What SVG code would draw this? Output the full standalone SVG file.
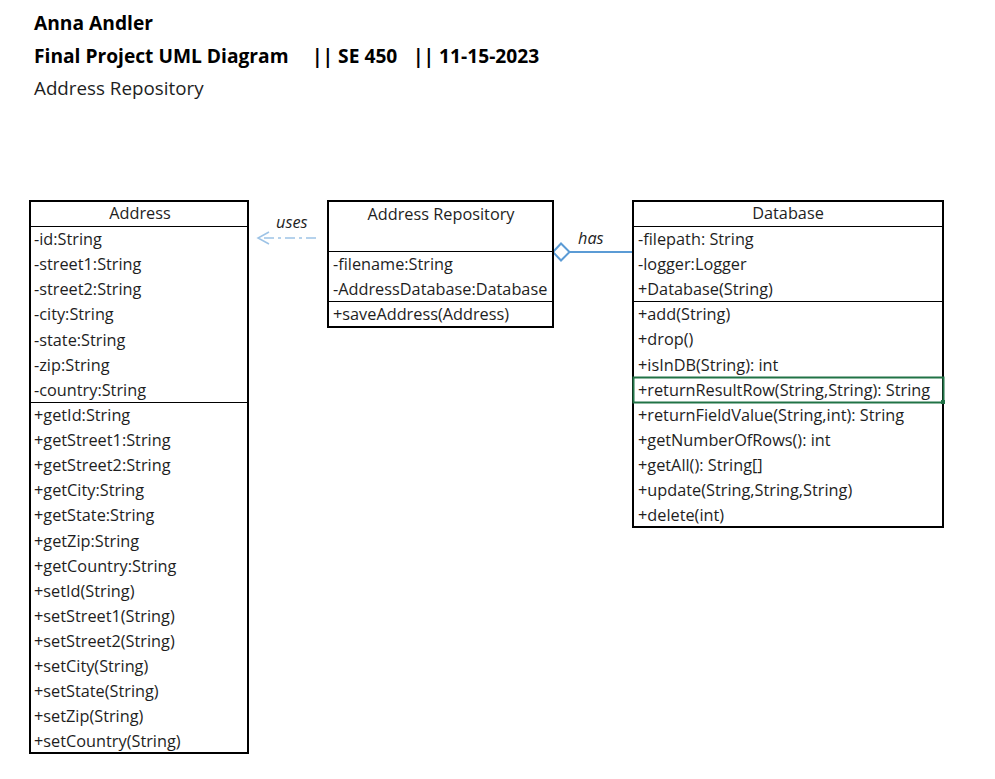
<svg xmlns="http://www.w3.org/2000/svg" width="995" height="779" viewBox="0 0 995 779">
<style>
.t{font-family:"Open Sans","Noto Sans","Liberation Sans",sans-serif;font-size:16.3px;fill:#1e1e1e}
.h{font-family:"Open Sans","Noto Sans","Liberation Sans",sans-serif;font-size:19.2px;font-weight:bold;fill:#000}
.s{font-family:"Open Sans","Noto Sans","Liberation Sans",sans-serif;font-size:18.8px;fill:#1e1e1e}
.c{text-anchor:middle}
.i{font-style:italic}
.box{fill:#fff;stroke:#000;stroke-width:2}
.div{stroke:#000;stroke-width:1}
.lnk{stroke:#5b9bd5;stroke-width:2;fill:none}
</style>
<rect width="995" height="779" fill="#fff"/>
<g id="title">
<text class="h" x="34" y="30">Anna Andler</text>
<text class="h" x="34" y="63">Final Project UML Diagram</text>
<text class="h" x="312" y="63">|| SE 450</text>
<text class="h" x="413" y="63">|| 11-15-2023</text>
<text class="s" x="34" y="95">Address Repository</text>
</g>
<g id="connectors">
<line x1="316" y1="238" x2="260" y2="238" stroke="#9dc3e6" stroke-width="1.5" stroke-dasharray="10,4,3,4"/>
<polyline points="269,232 258,238 269,244" fill="none" stroke="#9dc3e6" stroke-width="1.5"/>
<text class="t i" x="276" y="228">uses</text>
<line class="lnk" x1="570" y1="252" x2="633" y2="252"/>
<polygon class="lnk" points="553,252 561,243.5 569.5,252 561,260.5" fill="#fff"/>
<text class="t i" x="578" y="244">has</text>
</g>
<g id="address">
<rect class="box" x="30" y="201" width="218" height="552"/>
<line class="div" x1="30" y1="226.5" x2="248" y2="226.5"/>
<line class="div" x1="30" y1="402.5" x2="248" y2="402.5"/>
<text class="t c" x="140" y="219">Address</text>
<text class="t" x="34" y="245">-id:String</text>
<text class="t" x="34" y="270">-street1:String</text>
<text class="t" x="34" y="295">-street2:String</text>
<text class="t" x="34" y="320">-city:String</text>
<text class="t" x="34" y="346">-state:String</text>
<text class="t" x="34" y="371">-zip:String</text>
<text class="t" x="34" y="396">-country:String</text>
<text class="t" x="34" y="421">+getId:String</text>
<text class="t" x="34" y="446">+getStreet1:String</text>
<text class="t" x="34" y="471">+getStreet2:String</text>
<text class="t" x="34" y="496">+getCity:String</text>
<text class="t" x="34" y="521">+getState:String</text>
<text class="t" x="34" y="547">+getZip:String</text>
<text class="t" x="34" y="572">+getCountry:String</text>
<text class="t" x="34" y="597">+setId(String)</text>
<text class="t" x="34" y="622">+setStreet1(String)</text>
<text class="t" x="34" y="647">+setStreet2(String)</text>
<text class="t" x="34" y="672">+setCity(String)</text>
<text class="t" x="34" y="697">+setState(String)</text>
<text class="t" x="34" y="722">+setZip(String)</text>
<text class="t" x="34" y="747">+setCountry(String)</text>
</g>
<g id="address-repository">
<rect class="box" x="328" y="201" width="225" height="126"/>
<line class="div" x1="328" y1="251.5" x2="553" y2="251.5"/>
<line class="div" x1="328" y1="301.5" x2="553" y2="301.5"/>
<text class="t c" x="441" y="220">Address Repository</text>
<text class="t" x="333" y="270">-filename:String</text>
<text class="t" x="333" y="295">-AddressDatabase:Database</text>
<text class="t" x="333" y="320">+saveAddress(Address)</text>
</g>
<g id="database">
<rect class="box" x="633" y="201" width="310" height="326"/>
<line class="div" x1="633" y1="226.5" x2="943" y2="226.5"/>
<line class="div" x1="633" y1="301.5" x2="943" y2="301.5"/>
<text class="t c" x="788" y="219">Database</text>
<text class="t" x="638" y="245">-filepath: String</text>
<text class="t" x="638" y="270">-logger:Logger</text>
<text class="t" x="638" y="295">+Database(String)</text>
<text class="t" x="638" y="320">+add(String)</text>
<text class="t" x="638" y="345">+drop()</text>
<text class="t" x="638" y="371">+isInDB(String): int</text>
<rect x="633.5" y="377.5" width="310" height="25" fill="none" stroke="#217346" stroke-width="2"/>
<rect x="941" y="400" width="4" height="4" fill="#217346"/>
<text class="t" x="638" y="396">+returnResultRow(String,String): String</text>
<text class="t" x="638" y="421">+returnFieldValue(String,int): String</text>
<text class="t" x="638" y="446">+getNumberOfRows(): int</text>
<text class="t" x="638" y="471">+getAll(): String[]</text>
<text class="t" x="638" y="496">+update(String,String,String)</text>
<text class="t" x="638" y="521">+delete(int)</text>
</g>
</svg>
